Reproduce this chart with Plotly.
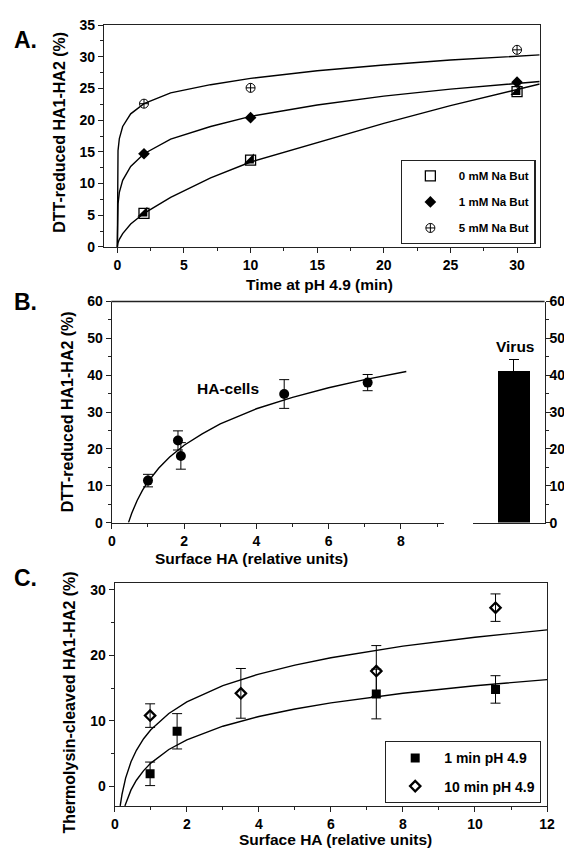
import plotly.graph_objects as go

# ---------------- Panel A data ----------------
a_time = [2, 10, 30]
a_0mM = [5.3, 13.7, 24.5]
a_1mM = [14.7, 20.4, 26.0]
a_5mM = [22.6, 25.1, 31.1]
a_names = ["0 mM Na But", "1 mM Na But", "5 mM Na But"]

# fitted curves
a_fit_x = [0, 0.01, 0.05, 0.15, 0.4, 1, 2, 4, 7, 10, 15, 20, 25, 31.7]
a_fit_0mM = [0, 0.3, 0.66, 1.2, 2.1, 3.6, 5.3, 7.8, 10.9, 13.4, 16.5, 19.5, 22.3, 25.7]
a_fit_1mM = [0, 4.9, 6.8, 8.6, 10.5, 12.7, 14.7, 17.0, 19.0, 20.6, 22.4, 23.8, 24.9, 26.1]
a_fit_5mM = [0, 12.8, 15.2, 17.1, 19.0, 21.0, 22.6, 24.3, 25.6, 26.6, 27.8, 28.7, 29.5, 30.3]

# ---------------- Panel B data ----------------
b_surface = [1.0, 1.83, 1.91, 4.77, 7.08]
b_dtt = [11.4, 22.3, 18.1, 34.9, 38.0]
b_err = [1.7, 2.6, 3.6, 3.9, 2.2]
b_fit_x = [0.46, 0.55, 0.7, 0.85, 1, 1.3, 1.6, 2, 2.5, 3, 4, 5, 6, 7, 8.15]
b_fit_y = [0, 2.55, 6.0, 8.8, 11.1, 14.8, 17.8, 21.0, 24.1, 26.8, 30.9, 34.0, 36.6, 38.8, 41.0]
virus_cat = ["Virus"]
virus_val = [41.4]
virus_err = [3.0]

# ---------------- Panel C data ----------------
c_x_1min = [0.98, 1.73, 7.26, 10.57]
c_y_1min = [1.9, 8.4, 14.1, 14.8]
c_e_1min = [1.8, 2.7, 3.8, 2.1]
c_x_10min = [0.98, 3.5, 7.26, 10.57]
c_y_10min = [10.8, 14.2, 17.6, 27.3]
c_e_10min = [1.8, 3.8, 3.9, 2.1]
c_names = ["1 min pH 4.9", "10 min pH 4.9"]
c_fit_up_x = [0.15, 0.2, 0.3, 0.45, 0.6, 0.8, 1, 1.5, 2, 3, 4, 5, 6, 8, 10, 12]
c_fit_up_y = [-3, -1.24, 1.25, 3.74, 5.5, 7.27, 8.64, 11.13, 12.9, 15.39, 17.15, 18.52, 19.64, 21.41, 22.78, 23.9]
c_fit_lo_x = [0.28, 0.35, 0.45, 0.6, 0.8, 1, 1.5, 2, 3, 4, 5, 6, 8, 10, 12]
c_fit_lo_y = [-3, -1.85, -0.56, 0.92, 2.39, 3.54, 5.62, 7.1, 9.18, 10.66, 11.81, 12.74, 14.22, 15.37, 16.3]

FONT = "Liberation Sans, Arial, sans-serif"
AX = "#222222"
W, H = 572, 852

fig = go.Figure()

line_style = dict(color="black", width=1.4)

# ---- Panel A ----
for fy in (a_fit_0mM, a_fit_1mM, a_fit_5mM):
    fig.add_trace(go.Scatter(x=a_fit_x, y=fy, mode="lines", line=line_style,
                             showlegend=False, xaxis="x", yaxis="y", hoverinfo="skip"))
# half-filled square: black lower-right triangle under an open square
fig.add_trace(go.Scatter(x=a_time, y=a_0mM, mode="markers", showlegend=False,
                         marker=dict(symbol="triangle-se", size=11, color="black", line=dict(width=0)),
                         xaxis="x", yaxis="y"))
fig.add_trace(go.Scatter(x=a_time, y=a_0mM, mode="markers", name=a_names[0], legendgroup="a0",
                         marker=dict(symbol="square-open", size=10, color="black", line=dict(width=1.3)),
                         xaxis="x", yaxis="y", legend="legend"))
fig.add_trace(go.Scatter(x=a_time, y=a_1mM, mode="markers", name=a_names[1], legendgroup="a1",
                         marker=dict(symbol="diamond", size=9, color="black"),
                         xaxis="x", yaxis="y", legend="legend"))
fig.add_trace(go.Scatter(x=a_time, y=a_5mM, mode="markers", name=a_names[2], legendgroup="a2",
                         marker=dict(symbol="circle-cross-open", size=9, color="black", line=dict(width=1)),
                         xaxis="x", yaxis="y", legend="legend"))

# ---- Panel B ----
fig.add_trace(go.Scatter(x=b_fit_x, y=b_fit_y, mode="lines", line=line_style,
                         showlegend=False, xaxis="x2", yaxis="y2", hoverinfo="skip"))
fig.add_trace(go.Scatter(x=b_surface, y=b_dtt, mode="markers", showlegend=False,
                         marker=dict(symbol="circle", size=10, color="black"),
                         error_y=dict(type="data", array=b_err, color="black", thickness=1, width=5),
                         xaxis="x2", yaxis="y2"))
fig.add_trace(go.Bar(x=virus_cat, y=virus_val, width=0.45, marker=dict(color="black", line=dict(width=0)),
                     error_y=dict(type="data", array=virus_err, color="black", thickness=1, width=5),
                     showlegend=False, xaxis="x3", yaxis="y3"))

# ---- Panel C ----
fig.add_trace(go.Scatter(x=c_fit_up_x, y=c_fit_up_y, mode="lines", line=line_style,
                         showlegend=False, xaxis="x4", yaxis="y4", hoverinfo="skip"))
fig.add_trace(go.Scatter(x=c_fit_lo_x, y=c_fit_lo_y, mode="lines", line=line_style,
                         showlegend=False, xaxis="x4", yaxis="y4", hoverinfo="skip"))
fig.add_trace(go.Scatter(x=c_x_1min, y=c_y_1min, mode="markers", name=c_names[0], legendgroup="c0",
                         marker=dict(symbol="square", size=9, color="black"),
                         error_y=dict(type="data", array=c_e_1min, color="black", thickness=1, width=5),
                         xaxis="x4", yaxis="y4", legend="legend2"))
fig.add_trace(go.Scatter(x=c_x_10min, y=c_y_10min, mode="markers", name=c_names[1], legendgroup="c1",
                         marker=dict(symbol="diamond-open", size=8, color="black", line=dict(width=2.2)),
                         error_y=dict(type="data", array=c_e_10min, color="black", thickness=1, width=5),
                         xaxis="x4", yaxis="y4", legend="legend2"))

tickfont = dict(family=FONT, size=14, color="black", weight="bold")


def axis(domain, rng, anchor, dtick, minor_dtick, **kw):
    d = dict(domain=domain, range=rng, anchor=anchor, showgrid=False, zeroline=False,
             showline=True, linecolor=AX, linewidth=1.4, ticks="outside", ticklen=5,
             tickwidth=1.2, tickcolor=AX, tickfont=tickfont, dtick=dtick, tick0=0,
             minor=dict(dtick=minor_dtick, ticks="outside", ticklen=3, tickwidth=1, tickcolor=AX,
                        showgrid=False))
    d.update(kw)
    return d


def px_x(p):
    return p / W


def px_y(p):
    return 1 - p / H


fig.update_layout(
    width=W, height=H, margin=dict(l=0, r=0, t=0, b=0),
    paper_bgcolor="white", plot_bgcolor="white",
    font=dict(family=FONT, color="black"),
    xaxis=axis([px_x(94), px_x(539)], [-1, 31.7], "y", 5, 2.5, mirror=True),
    yaxis=axis([px_y(235.3), px_y(9.3)], [0, 35], "x", 5, 2.5, mirror=True),
    xaxis2=axis([px_x(102), px_x(441.5)], [0, 9.2], "y2", 2, 1),
    yaxis2=axis([px_y(516.3), px_y(291)], [0, 60], "x2", 10, 5),
    xaxis3=dict(domain=[px_x(470.6), px_x(544)], range=[-0.57, 0.43], anchor="y3",
                showline=True, linecolor=AX, linewidth=1.4, showticklabels=False, ticks="",
                showgrid=False, zeroline=False),
    yaxis3=axis([px_y(516.3), px_y(291)], [0, 60], "x3", 10, 5, side="right",
                ticklabelstandoff=-4),
    xaxis4=axis([px_x(105), px_x(546.5)], [0, 12], "y4", 2, 1, mirror=True),
    yaxis4=axis([px_y(805), px_y(578.3)], [-3, 31], "x4", 10, 5, mirror=True,
                tickvals=[0, 10, 20, 30]),
    legend=dict(x=px_x(397), y=px_y(147), xanchor="left", yanchor="top",
                bordercolor=AX, borderwidth=1.2, bgcolor="white",
                font=dict(family=FONT, size=11.5, color="black", weight="bold"),
                itemwidth=47, tracegroupgap=7, traceorder="grouped"),
    legend2=dict(x=px_x(381), y=px_y(739), xanchor="left", yanchor="top",
                 bordercolor=AX, borderwidth=1.2, bgcolor="white",
                 font=dict(family=FONT, size=14, color="black", weight="bold"),
                 itemwidth=48, tracegroupgap=7, traceorder="grouped"),
    bargap=0,
)

# top line across panel B
fig.add_shape(type="line", xref="paper", yref="paper", x0=px_x(101.4), x1=px_x(544),
              y0=px_y(291), y1=px_y(291), line=dict(color=AX, width=1.4))

title_font = dict(family=FONT, size=15.5, color="black", weight="bold")
ytitle_font = dict(family=FONT, size=16, color="black", weight="bold")
letter_font = dict(family=FONT, size=23, color="black", weight="bold")

ann = []


def text(t, x, y, f, angle=0):
    ann.append(dict(text=t, x=px_x(x), y=px_y(y), xref="paper", yref="paper", showarrow=False,
                    font=f, textangle=angle, xanchor="center", yanchor="middle"))


text("Time at pH 4.9 (min)", 314.5, 274, title_font)
text("DTT-reduced HA1-HA2 (%)", 49, 118, ytitle_font, -90)
text("A.", 14, 24, letter_font)

text("Surface HA (relative units)", 245, 553, title_font)
text("DTT-reduced HA1-HA2 (%)", 57, 403, ytitle_font, -90)
text("B.", 14, 291, letter_font)
text("HA-cells", 221, 380, title_font)
text("Virus", 514.5, 337, title_font)

text("Surface HA (relative units)", 330, 839, title_font)
text("Thermolysin-cleaved HA1-HA2 (%)", 59, 700, ytitle_font, -90)
text("C.", 14, 573, letter_font)

fig.update_layout(annotations=ann)

fig.write_html("out.html")
